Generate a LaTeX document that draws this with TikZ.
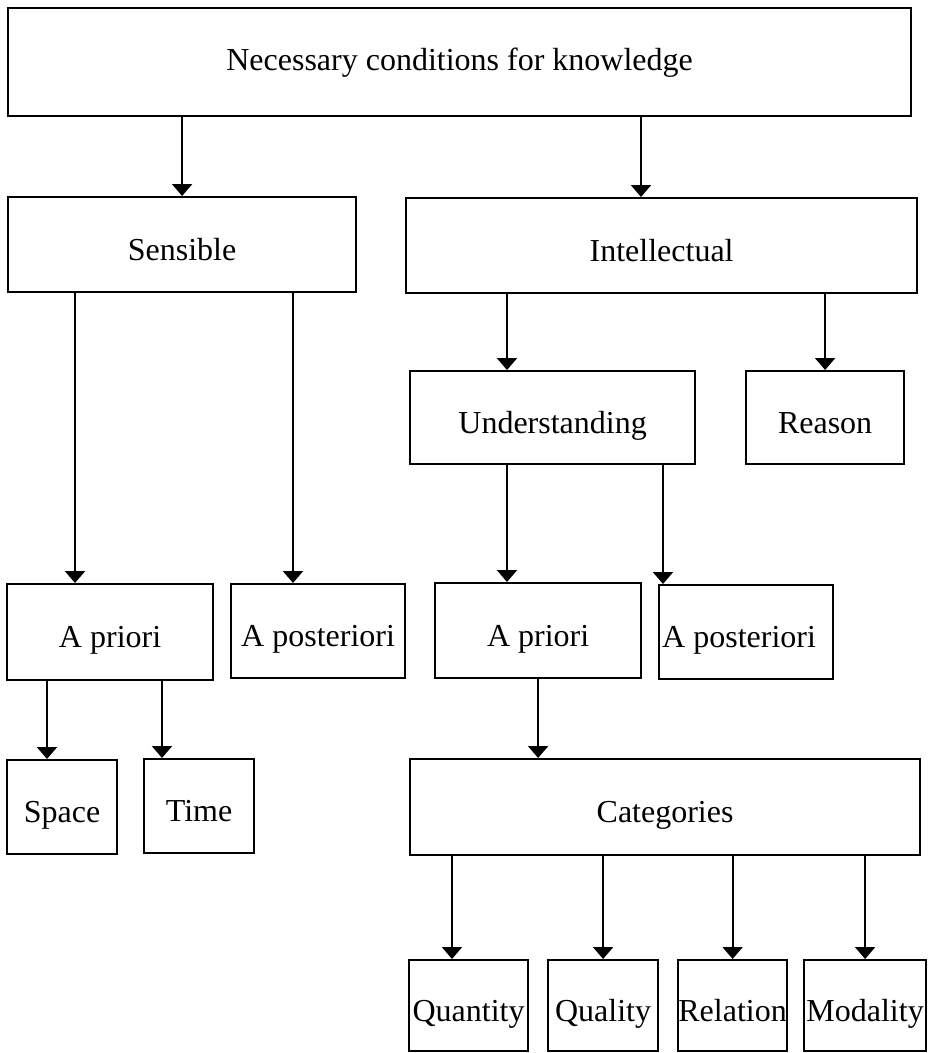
\documentclass[tikz,border=0pt]{standalone}
\usepackage{fontspec}
\setmainfont{Liberation Serif}
\usepackage{tikz}
\usetikzlibrary{arrows.meta}

\begin{document}
\begin{tikzpicture}[x=1pt, y=-1pt, line width=2.2pt, >={Triangle[width=20pt,length=12pt]},
    every node/.style={rectangle, draw, anchor=north west, inner sep=0pt, text height=31pt, text depth=0pt, font=\fontsize{32}{38}\selectfont}]
    \useasboundingbox (0,0) rectangle (929,1053);
    \node [minimum width=903pt, minimum height=108pt, text height=16pt] (need) at (7,7) {Necessary conditions for knowledge};
    \node [minimum width=348pt, minimum height=95pt] (sens) at (7,196) {Sensible};
    \node [minimum width=511pt, minimum height=95pt] (intel) at (405,197) {Intellectual};
    \node [minimum width=285pt, minimum height=93pt] (under) at (409,370) {Understanding};
    \node [minimum width=158pt, minimum height=93pt] (reason) at (745,370) {Reason};
    \node [minimum width=206pt, minimum height=96pt] (apri) at (6,583) {A priori};
    \node [minimum width=174pt, minimum height=94pt] (apost) at (230,583) {A posteriori};
    \node [minimum width=206pt, minimum height=95pt] (apri2) at (434,582) {A priori};
    \node [minimum width=174pt, minimum height=94pt] (apost2) at (658,584) {A posteriori\hspace*{14pt}};
    \node [minimum width=110pt, minimum height=94pt] (space) at (6,759) {Space};
    \node [minimum width=110pt, minimum height=94pt] (time) at (143,758) {Time};
    \node [minimum width=510pt, minimum height=96pt] (cats) at (409,758) {Categories};
    \node [minimum width=119pt, minimum height=91pt] (quant) at (408,959) {Quantity};
    \node [minimum width=110pt, minimum height=91pt] (qual) at (547,959) {Quality};
    \node [minimum width=109pt, minimum height=91pt] (rel) at (677,959) {Relation};
    \node [minimum width=122pt, minimum height=91pt] (modal) at (803,959) {Modality};

    \draw [->] (need.south -| sens.north) -- (sens.north);
    \draw [->] (need.south -| 641,0) -- (intel.north -| 641,0);
    \draw [->] (sens.south -| 75,0) -- (apri.north -| 75,0);
    \draw [->] (sens.south -| 293,0) -- (apost.north -| 293,0);
    \draw [->] (intel.south -| 507,0) -- (under.north -| 507,0);
    \draw [->] (intel.south -| reason.north) -- (reason.north);
    \draw [->] (under.south -| 507,0) -- (apri2.north -| 507,0);
    \draw [->] (under.south -| 663,0) -- (apost2.north -| 663,0);
    \draw [->] (apri.south -| 47,0) -- (space.north -| 47,0);
    \draw [->] (apri.south -| 162,0) -- (time.north -| 162,0);
    \draw [->] (apri2.south) -- (cats.north -| apri2.south);
    \draw [->] (cats.south -| 452,0) -- (quant.north -| 452,0);
    \draw [->] (cats.south -| qual.north) -- (qual.north);
    \draw [->] (cats.south -| rel.north) -- (rel.north);
    \draw [->] (cats.south -| modal.north) -- (modal.north);
\end{tikzpicture}
\end{document}
